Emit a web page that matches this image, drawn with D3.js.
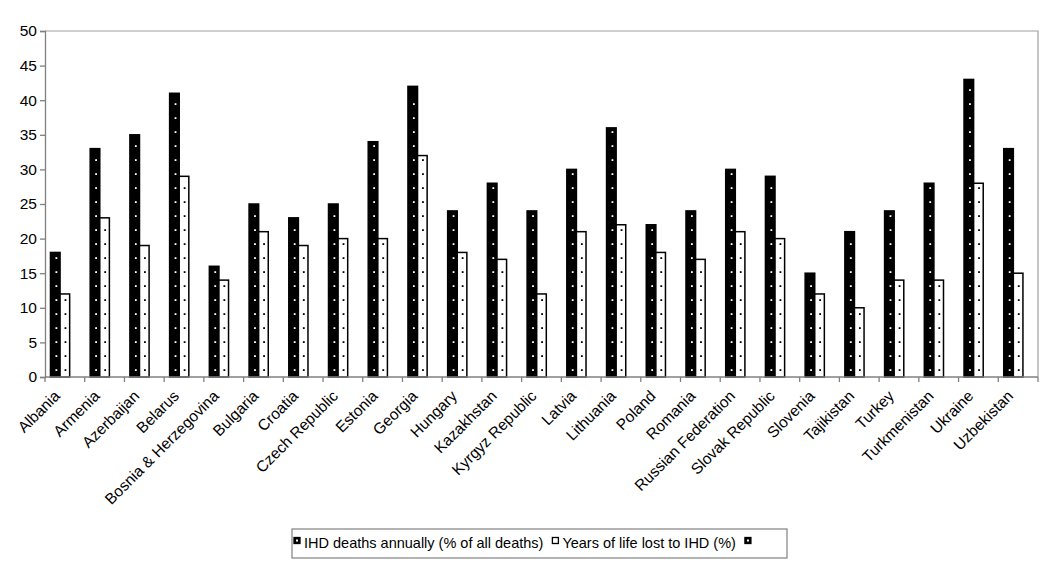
<!DOCTYPE html>
<html><head><meta charset="utf-8">
<script src="https://cdn.jsdelivr.net/npm/d3@7"></script>
<style>
body{margin:0;background:#fff;}
text{font-family:"Liberation Sans",Arial,sans-serif;}
</style></head>
<body>
<svg id="chart" width="1050" height="567"></svg>
<script>
const countries = ["Albania","Armenia","Azerbaijan","Belarus","Bosnia & Herzegovina","Bulgaria","Croatia","Czech Republic","Estonia","Georgia","Hungary","Kazakhstan","Kyrgyz Republic","Latvia","Lithuania","Poland","Romania","Russian Federation","Slovak Republic","Slovenia","Tajikistan","Turkey","Turkmenistan","Ukraine","Uzbekistan"];
const ihdDeaths = [18,33,35,41,16,25,23,25,34,42,24,28,24,30,36,22,24,30,29,15,21,24,28,43,33];
const yearsLost = [12,23,19,29,14,21,19,20,20,32,18,17,12,21,22,18,17,21,20,12,10,14,14,28,15];
const thirdSeries = countries.map(() => null);
const seriesNames = ["IHD deaths annually (% of all deaths)", "Years of life lost to IHD (%)", ""];
const yTicks = [0,5,10,15,20,25,30,35,40,45,50];

const svg = d3.select("#chart");
const m = {left:45, right:1038, top:31, bottom:377};

const x0 = d3.scaleBand().domain(countries).range([m.left, m.right]).padding(0);
const x1 = d3.scaleBand().domain([0,1,2]).range([0, x0.bandwidth()]).paddingInner(0).paddingOuter(0.57);
const y = d3.scaleLinear().domain([0,50]).range([m.bottom, m.top]);

const seriesData = [ihdDeaths, yearsLost, thirdSeries];
const fills = ["#000","#fff","#000"];
const dotFills = ["#fff","#000","#fff"];

// frame (top and right)
svg.append("path")
  .attr("d", `M${m.left},${m.top}H${m.right}V${m.bottom}`)
  .attr("fill","none").attr("stroke","#a0a0a0").attr("stroke-width",1.2);

// bars with dotted fill
const groups = svg.append("g").selectAll("g").data(countries).join("g")
  .attr("transform", d => `translate(${x0(d)},0)`);
seriesData.forEach((vals, s) => {
  const g = groups.filter((d,i) => vals[i] != null);
  g.append("rect")
    .attr("x", x1(s))
    .attr("y", d => y(vals[countries.indexOf(d)]))
    .attr("width", x1.bandwidth())
    .attr("height", d => y(0) - y(vals[countries.indexOf(d)]))
    .attr("fill", fills[s])
    .attr("stroke","#000").attr("stroke-width",1.5);
  g.each(function(d) {
    const v = vals[countries.indexOf(d)];
    const top = y(v);
    const ys = d3.range(y(0) - 7, top + 4, -14);
    d3.select(this).selectAll(null).data(ys).join("rect")
      .attr("x", x1(s) + x1.bandwidth()/2 - 0.8 + (s===0 ? 1 : 0.5))
      .attr("y", yy => yy - 0.8)
      .attr("width", 1.8).attr("height", 1.8)
      .attr("fill", dotFills[s]);
  });
});

// y axis
const yAxis = svg.append("g").attr("transform",`translate(${m.left},0)`)
  .call(d3.axisLeft(y).tickValues(yTicks).tickSize(5).tickPadding(3));
yAxis.select(".domain").attr("stroke","#808080").attr("stroke-width",1.3);
yAxis.selectAll(".tick line").attr("stroke","#808080").attr("stroke-width",1.3);
yAxis.selectAll("text").attr("font-size",15.5).attr("font-family","Liberation Sans, Arial, sans-serif").attr("fill","#000");

// x axis: ticks at category boundaries
const xAxisG = svg.append("g");
xAxisG.append("line").attr("x1",m.left).attr("x2",m.right).attr("y1",m.bottom).attr("y2",m.bottom)
  .attr("stroke","#808080").attr("stroke-width",1.3);
const bounds = countries.map(c => x0(c)).concat([m.right]);
xAxisG.selectAll("line.tk").data(bounds).join("line").attr("class","tk")
  .attr("x1",d=>d).attr("x2",d=>d).attr("y1",m.bottom).attr("y2",m.bottom+5)
  .attr("stroke","#808080").attr("stroke-width",1.3);
xAxisG.selectAll("text").data(countries).join("text")
  .attr("transform", d => `translate(${x0(d)+x0.bandwidth()/2-4},${m.bottom+20}) rotate(-45)`)
  .attr("text-anchor","end").attr("font-size",15.5).attr("fill","#000")
  .text(d => d);

// legend
const leg = svg.append("g");
leg.append("rect").attr("x",292).attr("y",529).attr("width",495).attr("height",29)
  .attr("fill","#fff").attr("stroke","#808080").attr("stroke-width",1.2);
let lx = 294;
seriesNames.forEach((name, s) => {
  const mk = leg.append("g").attr("transform",`translate(${lx},537.5)`);
  mk.append("rect").attr("width",6).attr("height",6).attr("fill",fills[s]).attr("stroke","#000").attr("stroke-width",1.3);
  if (s !== 1) mk.append("rect").attr("x",2).attr("y",2).attr("width",2).attr("height",2).attr("fill","#fff");
  lx += 10;
  if (name) {
    const t = leg.append("text").attr("x",lx).attr("y",547.5).attr("font-size",14.5).attr("fill","#000").text(name);
    lx += t.node().getComputedTextLength() + 9;
  }
});
</script>
</body></html>
